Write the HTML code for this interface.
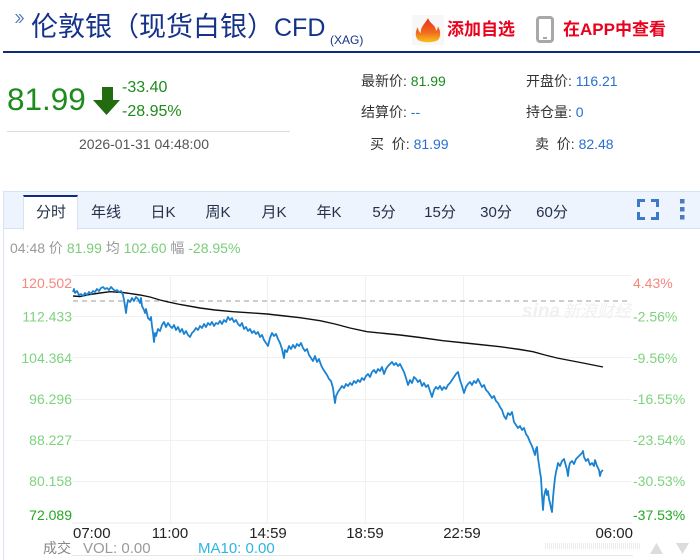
<!DOCTYPE html>
<html><head><meta charset="utf-8">
<style>
html,body{margin:0;padding:0;background:#fff;}
body{width:700px;height:560px;position:relative;overflow:hidden;font-family:"Liberation Sans","Noto Sans CJK SC",sans-serif;}
.a{position:absolute;white-space:nowrap;line-height:1;}
.tab{position:absolute;top:205px;font-size:15px;color:#253048;transform:translateX(-50%);line-height:16px;}
.lbl{color:#333;}
</style></head><body>

<!-- header -->
<svg class="a" style="left:15px;top:14px" width="9" height="9" viewBox="0 0 9 9"><path d="M0 0 L4 4.5 L0 9 L1.5 9 L5.5 4.5 L1.5 0Z M3.5 0 L7.5 4.5 L3.5 9 L5 9 L9 4.5 L5 0Z" fill="#4a6fb5"/></svg>
<div class="a" style="left:31px;top:14px;font-size:27px;color:#15328a;">伦敦银（现货白银）<span style="font-size:25px">CFD</span></div>
<div class="a" style="left:330px;top:34px;font-size:12px;color:#15328a;">(XAG)</div>

<svg class="a" style="left:412px;top:15px" width="32" height="30" viewBox="0 0 32 30">
<defs><linearGradient id="fg" x1="0" y1="0" x2="0" y2="1"><stop offset="0" stop-color="#e8301c"/><stop offset="0.6" stop-color="#f26b1d"/><stop offset="1" stop-color="#f7c21a"/></linearGradient></defs>
<rect width="32" height="30" fill="#f7f7f7"/>
<path d="M16 3 C18 9 24 10 24 16 C26 14 26 12 25.5 11 C29 15 29 22 26 25 C22 28 10 28 6 25 C3 22 3 16 6 12 C6 15 7 17 9 18 C8 12 13 9 16 3Z" fill="url(#fg)"/>
</svg>
<div class="a" style="left:447px;top:21px;font-size:17px;font-weight:bold;color:#e8001c;">添加自选</div>
<svg class="a" style="left:536px;top:16px" width="18" height="27" viewBox="0 0 18 27"><rect x="1.5" y="1.5" width="15" height="24" rx="2.5" fill="none" stroke="#a8a8a8" stroke-width="3"/><rect x="7" y="21" width="4" height="2" fill="#a8a8a8"/></svg>
<div class="a" style="left:563px;top:21px;font-size:17px;font-weight:bold;color:#e8001c;">在APP中查看</div>

<div class="a" style="left:3px;top:51px;width:697px;height:2px;background:#102c7c;"></div>

<!-- price block -->
<div class="a" style="left:7px;top:84px;font-size:31.5px;color:#1c8c1c;">81.99</div>
<svg class="a" style="left:93px;top:87px" width="27" height="28" viewBox="0 0 27 28"><path d="M9 0 H20 V13 H27 L13.5 28 L0 13 H9Z" fill="#236b0f"/></svg>
<div class="a" style="left:122px;top:80px;font-size:16px;color:#1c8c1c;">-33.40</div>
<div class="a" style="left:122px;top:104px;font-size:16px;color:#1c8c1c;">-28.95%</div>
<div class="a" style="left:7px;top:131px;width:283px;height:1px;background:#dcdcdc;"></div>
<div class="a" style="left:79px;top:137px;font-size:14px;color:#555;">2026-01-31 04:48:00</div>

<div class="a" style="left:361px;top:74px;font-size:14px;"><span class="lbl">最新价:</span> <span style="color:#1c8c1c">81.99</span></div>
<div class="a" style="left:361px;top:105px;font-size:14px;"><span class="lbl">结算价:</span> <span style="color:#2a6fd0">--</span></div>
<div class="a" style="left:370px;top:137px;font-size:14px;"><span class="lbl">买&nbsp; 价:</span> <span style="color:#2a6fd0">81.99</span></div>
<div class="a" style="left:526px;top:74px;font-size:14px;"><span class="lbl">开盘价:</span> <span style="color:#2a6fd0">116.21</span></div>
<div class="a" style="left:526px;top:105px;font-size:14px;"><span class="lbl">持仓量:</span> <span style="color:#2a6fd0">0</span></div>
<div class="a" style="left:535px;top:137px;font-size:14px;"><span class="lbl">卖&nbsp; 价:</span> <span style="color:#2a6fd0">82.48</span></div>

<!-- chart panel -->
<div class="a" style="left:3px;top:191px;width:697px;height:369px;border-left:1px solid #dbe5f3;box-sizing:border-box;"></div>
<div class="a" style="left:3px;top:191px;width:697px;height:38px;background:#edf4fe;border:1px solid #d6e2f5;border-right:none;box-sizing:border-box;"></div>
<div class="a" style="left:23px;top:195px;width:55px;height:35px;background:#fff;border-top:2px solid #102c7c;border-left:1px solid #d6e2f5;border-right:1px solid #d6e2f5;box-sizing:border-box;"></div>
<div class="tab" style="left:51px;">分时</div>
<div class="tab" style="left:106px;">年线</div>
<div class="tab" style="left:163px;">日K</div>
<div class="tab" style="left:218px;">周K</div>
<div class="tab" style="left:274px;">月K</div>
<div class="tab" style="left:329px;">年K</div>
<div class="tab" style="left:384px;">5分</div>
<div class="tab" style="left:440px;">15分</div>
<div class="tab" style="left:496px;">30分</div>
<div class="tab" style="left:552px;">60分</div>
<svg class="a" style="left:637px;top:199px" width="22" height="21" viewBox="0 0 22 21"><path d="M1.5 8 V1.5 H8 M14 1.5 H20.5 V8 M20.5 13 V19.5 H14 M8 19.5 H1.5 V13" fill="none" stroke="#3b78c8" stroke-width="3"/></svg>
<svg class="a" style="left:679px;top:199px" width="7" height="21" viewBox="0 0 7 21"><rect x="1" y="0" width="4.5" height="4.5" fill="#4a7bc0"/><rect x="1" y="8" width="4.5" height="4.5" fill="#4a7bc0"/><rect x="1" y="16" width="4.5" height="4.5" fill="#4a7bc0"/></svg>

<div class="a" style="left:10px;top:241px;font-size:14px;color:#9a9a9a;">04:48 价 <span style="color:#79cd79">81.99</span> 均 <span style="color:#79cd79">102.60</span> 幅 <span style="color:#79cd79">-28.95%</span></div>

<svg class="a" style="left:0;top:0" width="700" height="560" viewBox="0 0 700 560" font-family="Liberation Sans, sans-serif">
<g stroke="#f1f1f1" stroke-width="1">
<line x1="73" y1="275.5" x2="631" y2="275.5"/>
<line x1="73" y1="316.5" x2="631" y2="316.5"/>
<line x1="73" y1="357.5" x2="631" y2="357.5"/>
<line x1="73" y1="399.5" x2="631" y2="399.5"/>
<line x1="73" y1="440.5" x2="631" y2="440.5"/>
<line x1="73" y1="481.5" x2="631" y2="481.5"/>
<line x1="170.5" y1="275" x2="170.5" y2="523"/>
<line x1="267.5" y1="275" x2="267.5" y2="523"/>
<line x1="365.5" y1="275" x2="365.5" y2="523"/>
<line x1="463.5" y1="275" x2="463.5" y2="523"/>
</g>
<line x1="72" y1="523" x2="632" y2="523" stroke="#e8e8e8"/>
<line x1="72" y1="555.5" x2="633" y2="555.5" stroke="#e6e6e6"/>
<line x1="73" y1="301" x2="630" y2="301" stroke="#9c9c9c" stroke-dasharray="5,4"/>

<!-- watermark -->
<text x="522" y="317" font-size="19" font-style="italic" font-weight="bold" fill="#f0f0f0">sina</text>
<text x="563" y="317" font-size="17" font-style="italic" fill="#f0f0f0" font-family="Noto Sans CJK SC, sans-serif">新浪财经</text>

<g font-size="14">
<text x="72" y="288" text-anchor="end" fill="#f5877d">120.502</text>
<text x="72" y="321.5" text-anchor="end" fill="#7dd37d">112.433</text>
<text x="72" y="363" text-anchor="end" fill="#7dd37d">104.364</text>
<text x="72" y="404" text-anchor="end" fill="#7dd37d">96.296</text>
<text x="72" y="445" text-anchor="end" fill="#7dd37d">88.227</text>
<text x="72" y="486" text-anchor="end" fill="#7dd37d">80.158</text>
<text x="72" y="520" text-anchor="end" fill="#22a822">72.089</text>
<text x="633" y="288" fill="#f5877d">4.43%</text>
<text x="633" y="321.5" fill="#7dd37d">-2.56%</text>
<text x="633" y="363" fill="#7dd37d">-9.56%</text>
<text x="633" y="404" fill="#7dd37d">-16.55%</text>
<text x="633" y="445" fill="#7dd37d">-23.54%</text>
<text x="633" y="486" fill="#7dd37d">-30.53%</text>
<text x="633" y="520" fill="#22a822">-37.53%</text>
</g>
<g font-size="15" fill="#222">
<text x="73" y="538">07:00</text>
<text x="170" y="538" text-anchor="middle">11:00</text>
<text x="268" y="538" text-anchor="middle">14:59</text>
<text x="365" y="538" text-anchor="middle">18:59</text>
<text x="462" y="538" text-anchor="middle">22:59</text>
<text x="633" y="538" text-anchor="end">06:00</text>
</g>
<text x="43" y="553" font-size="14" fill="#888" font-family="Liberation Sans, Noto Sans CJK SC, sans-serif">成交</text>
<text x="83" y="553" font-size="15" fill="#9a9a9a">VOL: 0.00</text>
<text x="198" y="553" font-size="15" fill="#2cb6e4">MA10: 0.00</text>
<line x1="545" y1="544" x2="640" y2="544" stroke="#d8d8d8" stroke-dasharray="1,1"/>
<line x1="545" y1="546" x2="640" y2="546" stroke="#d8d8d8" stroke-dasharray="1,1"/>
<line x1="545" y1="548" x2="640" y2="548" stroke="#d8d8d8" stroke-dasharray="1,1"/>
<path d="M650 554 L656.5 543 L663 554Z" fill="#dcdcdc"/>
<path d="M676 543 L689 543 L682.5 554Z" fill="#dcdcdc"/>

<!-- average line -->
<polyline fill="none" stroke="#111" stroke-width="1.4" points="73,296 80,296.5 90,294.5 100,293 110,291.7 123,292.5 140,295 150,297 160,300 167,301.7 180,304.5 200,308 215,310 233,311.7 250,312.8 267,314 285,316 300,317.7 320,320.7 335,324 350,328 367,331.7 385,333.5 400,335 420,337.5 443,340.7 470,343.5 500,346.7 520,349.5 533,351.7 545,355 557,358 570,360.5 583,363 603,367"/>

<!-- price line -->
<polyline fill="none" stroke="#1a82d2" stroke-width="1.8" stroke-linejoin="round" points="73,292 74,289 75,293 77,291 79,295 81,294 83,296 85,293 87,295 89,292 91,294 93,291 95,292 97,289 99,291 101,288 103,287 105,289 107,288 109,290 111,287 113,289 115,291 117,290 119,292 121,291 123,295 124,300 125,306 126,313 127,305 128,300 130,302 132,298 134,301 136,297 138,299 140,303 141,298 142,306 144,310 145,313 146,309 148,318 150,320 151,317 152,326 153,333 154,342 155,333 156,336 158,329 160,331 162,325 164,322 166,327 168,323 170,326 172,328 174,325 176,330 178,327 180,332 182,329 184,334 186,331 188,335 190,337 192,333 194,331 196,328 198,330 200,326 202,328 204,324 206,327 208,323 210,325 212,322 214,326 216,323 218,324 220,321 222,324 224,320 226,322 228,317 230,320 232,318 234,322 236,320 238,324 240,326 242,323 244,329 246,327 248,331 250,329 252,333 254,331 256,334 258,332 260,337 262,335 264,340 266,343 268,346 270,338 272,333 274,336 276,334 278,339 280,343 282,349 284,358 285,350 287,352 289,346 291,349 293,345 295,348 297,344 299,346 301,343 303,348 305,351 307,349 309,355 311,358 313,361 315,356 317,362 319,359 321,365 323,369 325,372 327,375 329,379 331,381 333,388 334,396 335,403 336,396 338,392 340,389 342,386 344,388 346,384 348,386 350,383 352,385 354,381 356,383 358,380 360,382 362,378 364,380 366,376 368,374 370,377 372,372 374,370 376,373 378,369 380,371 382,367 384,374 386,369 388,366 390,364 392,362 394,365 396,363 398,366 400,364 402,368 404,372 406,378 408,385 410,380 412,383 414,377 416,379 418,382 420,380 422,386 424,383 426,387 428,385 430,391 432,397 434,390 436,387 438,389 440,386 442,390 444,387 446,389 448,385 450,383 452,380 454,377 456,374 458,372 460,380 462,386 464,393 466,387 468,384 470,382 472,385 474,381 476,383 478,379 480,383 482,387 484,385 486,390 488,392 490,395 492,398 494,396 496,401 498,403 500,407 502,410 504,416 506,419 508,413 510,415 512,412 514,422 516,425 518,428 520,426 522,430 524,428 526,434 528,437 530,442 532,446 534,452 535,455 536,449 537,447 538,458 540,472 541,478 542,495 543,510 544,497 545,492 546,489 547,495 548,491 549,499 550,503 551,508 552,512 553,498 554,487 555,478 556,472 557,468 558,463 560,466 562,461 564,459 566,466 567,470 568,476 569,467 570,463 572,461 574,464 576,459 578,457 580,455 582,453 583,451 584,457 586,461 588,459 590,465 592,463 594,466 595,460 597,466 599,470 600,476 601,472 603,470"/>
</svg>
</body></html>
